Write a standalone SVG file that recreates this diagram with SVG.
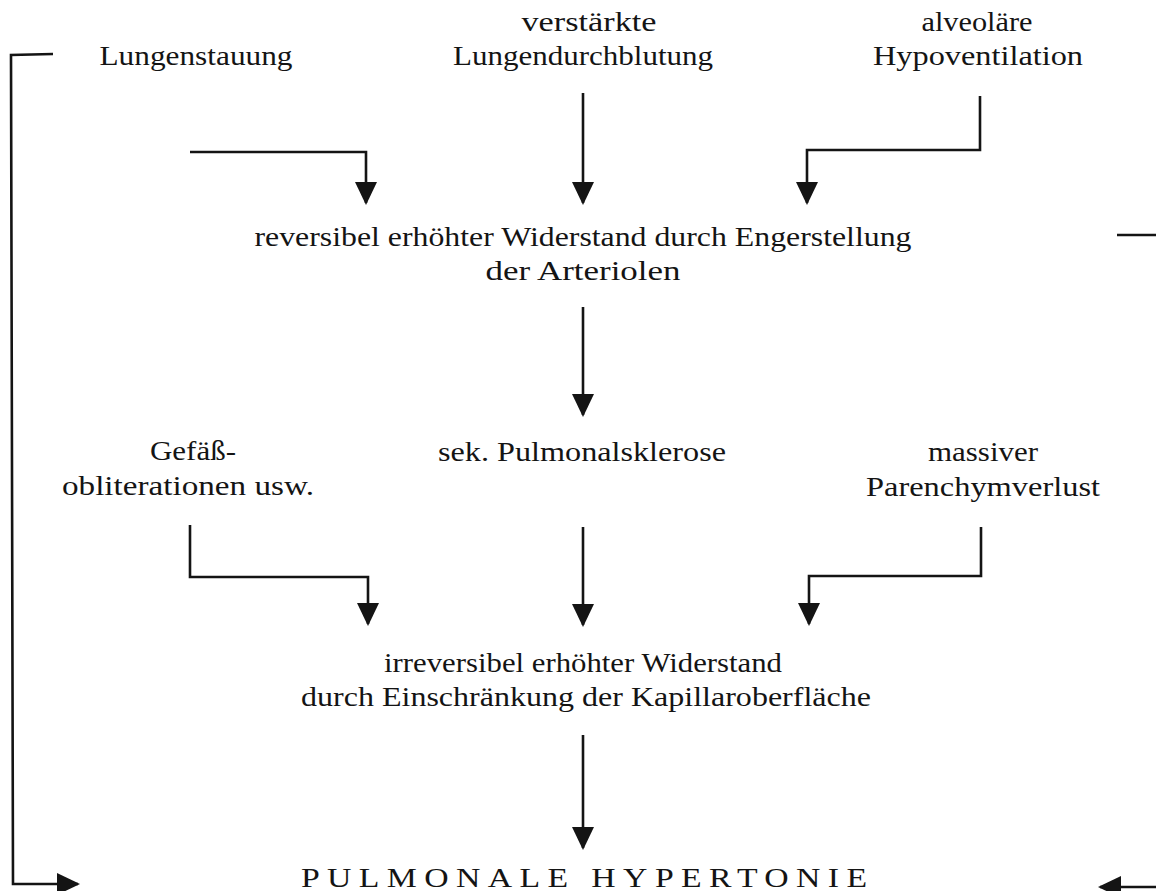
<svg xmlns="http://www.w3.org/2000/svg" width="1156" height="891" viewBox="0 0 1156 891">
<style>
text{font-family:"Liberation Serif","Times New Roman",serif;font-size:28px;fill:#141414;text-anchor:middle}
.caps{font-size:27px}
.c{fill:none;stroke:#141414;stroke-width:2.6}
.a{marker-end:url(#ah)}
</style>
<defs>
<marker id="ah" markerUnits="userSpaceOnUse" markerWidth="24" markerHeight="22" refX="21" refY="11" orient="auto" viewBox="0 0 24 22">
<path d="M0,0 L23,11 L0,22 Z" fill="#141414"/>
</marker>
</defs>
<rect width="1156" height="891" fill="#ffffff"/>
<g id="n-lungenstauung"><text x="196" y="65" textLength="193" lengthAdjust="spacingAndGlyphs">Lungenstauung</text></g>
<g id="n-durchblutung"><text x="589" y="31" textLength="135" lengthAdjust="spacingAndGlyphs">verstärkte</text><text x="583" y="65" textLength="260" lengthAdjust="spacingAndGlyphs">Lungendurchblutung</text></g>
<g id="n-hypoventilation"><text x="977" y="31" textLength="111" lengthAdjust="spacingAndGlyphs">alveoläre</text><text x="978" y="65" textLength="210" lengthAdjust="spacingAndGlyphs">Hypoventilation</text></g>
<g id="n-reversibel"><text x="583" y="246" textLength="657" lengthAdjust="spacingAndGlyphs">reversibel erhöhter Widerstand durch Engerstellung</text><text x="583" y="280" textLength="195" lengthAdjust="spacingAndGlyphs">der Arteriolen</text></g>
<g id="n-gefaess"><text x="193" y="460" textLength="86" lengthAdjust="spacingAndGlyphs">Gefäß-</text><text x="188" y="495" textLength="252" lengthAdjust="spacingAndGlyphs">obliterationen usw.</text></g>
<g id="n-sklerose"><text x="582" y="461" textLength="288" lengthAdjust="spacingAndGlyphs">sek. Pulmonalsklerose</text></g>
<g id="n-parenchym"><text x="983" y="461" textLength="110" lengthAdjust="spacingAndGlyphs">massiver</text><text x="983" y="496" textLength="234" lengthAdjust="spacingAndGlyphs">Parenchymverlust</text></g>
<g id="n-irreversibel"><text x="583" y="672" textLength="398" lengthAdjust="spacingAndGlyphs">irreversibel erhöhter Widerstand</text><text x="586" y="706" textLength="570" lengthAdjust="spacingAndGlyphs">durch Einschränkung der Kapillaroberfläche</text></g>
<g id="n-hypertonie"><text class="caps" transform="translate(584,887) scale(1.25,1)" x="0" y="0" textLength="453" lengthAdjust="spacing">PULMONALE HYPERTONIE</text></g>
<g id="connectors">
<polyline class="c a" points="190,152 366,152 366,203"/>
<line class="c a" x1="583" y1="93" x2="583" y2="203"/>
<polyline class="c a" points="980,96 980,150 807,150 807,203"/>
<line class="c a" x1="583" y1="307" x2="583" y2="415"/>
<polyline class="c a" points="190,525 190,577 368,577 368,624"/>
<line class="c a" x1="583" y1="527" x2="583" y2="625"/>
<polyline class="c a" points="981,527 981,576 809,576 809,624"/>
<line class="c a" x1="583" y1="735" x2="583" y2="848"/>
<polyline class="c a" points="53,54 11,55 13,884 78,884"/>
<line class="c a" x1="1156" y1="887" x2="1100" y2="887"/>
<line class="c" x1="1117" y1="235" x2="1156" y2="235"/>
</g>
</svg>
